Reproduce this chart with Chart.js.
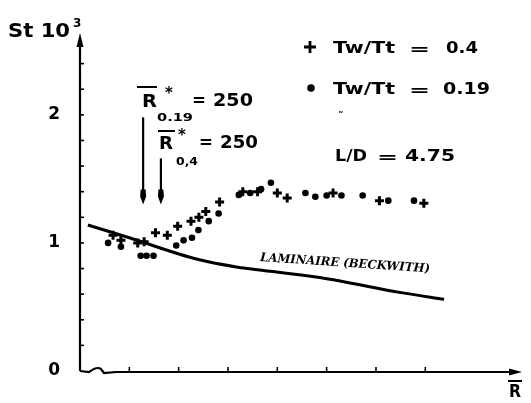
<!DOCTYPE html>
<html>
<head>
<meta charset="utf-8">
<script src="https://cdn.jsdelivr.net/npm/chart.js@4.4.0/dist/chart.umd.min.js"></script>
<style>
  html, body { margin: 0; padding: 0; background: #fff; }
  #wrap { width: 531px; height: 403px; }
</style>
</head>
<body>
<div id="wrap"><canvas id="chart" width="531" height="403"></canvas></div>
<script>
// ---- data ----
// + Tw/Tt = 0.4
const crossR  = [767, 783, 817, 830, 853, 877, 898, 925, 941, 955, 983, 1030, 1060, 1100, 1120, 1213, 1307, 1397];
const crossSt = [1.06, 1.02, 1.00, 1.01, 1.08, 1.06, 1.13, 1.17, 1.20, 1.245, 1.32, 1.40, 1.40, 1.39, 1.35, 1.39, 1.33, 1.31];
// • Tw/Tt = 0.19
const dotR  = [757, 783, 823, 835, 849, 895, 910, 927, 940, 961, 981, 1022, 1045, 1067, 1087, 1157, 1177, 1200, 1230, 1273, 1325, 1377];
const dotSt = [1.00, 0.97, 0.90, 0.90, 0.90, 0.98, 1.02, 1.04, 1.10, 1.17, 1.23, 1.375, 1.39, 1.42, 1.47, 1.39, 1.36, 1.37, 1.37, 1.37, 1.33, 1.33];
// laminaire (Beckwith)
const lamR  = [716, 800, 940, 1020, 1060, 1186, 1354, 1438];
const lamSt = [1.14, 1.04, 0.87, 0.81, 0.79, 0.73, 0.61, 0.56];
// tick labels
const xLabels = [800, 1000, 1200, 1400];
const yLabels = [0, 1, 2];
// R* transition arrows
const arrowR   = [828, 864];
const arrowTop = [1.98, 1.66];
const arrowTip = 1.30;

const FONT = '"DejaVu Sans", sans-serif';

function txt(ctx, s, x, y, font, w) {
    ctx.save();
    ctx.font = font;
    ctx.textAlign = 'left';
    ctx.textBaseline = 'alphabetic';
    ctx.fillStyle = '#000';
    ctx.translate(x, y);
    if (w) ctx.scale(w / ctx.measureText(s).width, 1);
    ctx.fillText(s, 0, 0);
    ctx.restore();
}

function bar(ctx, x1, x2, y) {
    ctx.beginPath(); ctx.moveTo(x1, y); ctx.lineTo(x2, y); ctx.stroke();
}

// axes, inner ticks, arrows and labels
const decor = {
    id: 'decor',
    afterDraw(chart) {
        const ctx = chart.ctx;
        const { x, y } = chart.scales;
        const a = chart.chartArea;
        ctx.save();
        ctx.strokeStyle = '#000';
        ctx.fillStyle = '#000';
        ctx.lineWidth = 2.2;
        ctx.lineCap = 'butt';

        // y axis with arrow
        ctx.beginPath(); ctx.moveTo(a.left, a.bottom); ctx.lineTo(a.left, a.top + 4); ctx.stroke();
        ctx.beginPath();
        ctx.moveTo(a.left, a.top - 5); ctx.lineTo(a.left + 3.5, a.top + 9); ctx.lineTo(a.left - 3.5, a.top + 9);
        ctx.closePath(); ctx.fill();

        // x axis with small break and arrow
        const y0 = y.getPixelForValue(0);
        ctx.beginPath();
        ctx.moveTo(a.left, y0);
        ctx.lineTo(a.left + 9, y0 + 1);
        ctx.quadraticCurveTo(a.left + 17, y0 - 5, a.left + 21, y0 - 2);
        ctx.lineTo(a.left + 24, y0 + 2);
        ctx.lineTo(a.left + 36, y0 + 1);
        ctx.lineTo(a.right - 6, y0 + 1);
        ctx.stroke();
        ctx.beginPath();
        ctx.moveTo(a.right, y0 + 1); ctx.lineTo(a.right - 13, y0 - 2.5); ctx.lineTo(a.right - 13, y0 + 4.5);
        ctx.closePath(); ctx.fill();

        // inner minor ticks
        ctx.lineWidth = 1.6;
        for (let v = 800; v <= 1400; v += 100) {
            const px = x.getPixelForValue(v);
            ctx.beginPath(); ctx.moveTo(px, y0); ctx.lineTo(px, y0 - 4); ctx.stroke();
        }
        for (let v = 0.2; v <= 2.41; v += 0.2) {
            const py = y.getPixelForValue(v);
            ctx.beginPath(); ctx.moveTo(a.left, py); ctx.lineTo(a.left + 4, py); ctx.stroke();
        }

        // R* arrows
        ctx.lineWidth = 2.2;
        arrowR.forEach((r, i) => {
            const px = x.getPixelForValue(r);
            const top = y.getPixelForValue(arrowTop[i]);
            const tip = y.getPixelForValue(arrowTip);
            ctx.beginPath(); ctx.moveTo(px, top); ctx.lineTo(px, tip - 10); ctx.stroke();
            ctx.beginPath();
            ctx.moveTo(px, tip);
            ctx.lineTo(px - 3, tip - 8);
            ctx.lineTo(px - 2.5, tip - 15);
            ctx.lineTo(px + 2.5, tip - 15);
            ctx.lineTo(px + 3, tip - 8);
            ctx.closePath(); ctx.fill();
        });

        // y title
        txt(ctx, 'St 10', 8, 37, 'bold 19px ' + FONT, 62);
        txt(ctx, '3', 73, 27, 'bold 12px ' + FONT);
        // x title R with bar
        txt(ctx, 'R', 509, 397, 'bold 17px ' + FONT, 12);
        ctx.lineWidth = 2;
        bar(ctx, 508, 522, 381);

        // R*0.19 = 250
        bar(ctx, 137, 157, 87);
        txt(ctx, 'R', 142, 107, 'bold 17px ' + FONT, 15);
        txt(ctx, '*', 165, 98, 'bold 15px ' + FONT);
        txt(ctx, '0.19', 157, 121, 'bold 11px ' + FONT, 36);
        txt(ctx, '=', 192, 106, 'bold 17px ' + FONT, 14);
        txt(ctx, '250', 213, 106, 'bold 17px ' + FONT, 40);
        // R*0,4 = 250
        bar(ctx, 158, 175, 131);
        txt(ctx, 'R', 159, 149, 'bold 17px ' + FONT, 14);
        txt(ctx, '*', 178, 140, 'bold 15px ' + FONT);
        txt(ctx, '0,4', 176, 165, 'bold 11px ' + FONT, 22);
        txt(ctx, '=', 199, 148, 'bold 17px ' + FONT, 14);
        txt(ctx, '250', 220, 148, 'bold 17px ' + FONT, 38);

        // legend
        ctx.lineWidth = 2.8;
        ctx.beginPath(); ctx.moveTo(304, 47); ctx.lineTo(316, 47); ctx.moveTo(310, 41); ctx.lineTo(310, 53); ctx.stroke();
        ctx.beginPath(); ctx.arc(311, 88, 3.8, 0, Math.PI * 2); ctx.fill();
        txt(ctx, 'Tw/Tt', 333, 53, 'bold 16px ' + FONT, 62);
        txt(ctx, '=', 409, 54, 'bold 16px ' + FONT, 21);
        txt(ctx, '0.4', 446, 53, 'bold 16px ' + FONT, 32);
        txt(ctx, 'Tw/Tt', 333, 94, 'bold 16px ' + FONT, 62);
        txt(ctx, '=', 409, 95, 'bold 16px ' + FONT, 21);
        txt(ctx, '0.19', 443, 94, 'bold 16px ' + FONT, 47);
        txt(ctx, '˜', 338, 120, 'bold 11px ' + FONT);
        txt(ctx, 'L/D', 335, 161, 'bold 16px ' + FONT, 32);
        txt(ctx, '=', 377, 162, 'bold 16px ' + FONT, 21);
        txt(ctx, '4.75', 405, 161, 'bold 16px ' + FONT, 50);

        // laminar label
        ctx.save();
        ctx.translate(260, 261);
        ctx.rotate(Math.atan2(10, 150));
        txt(ctx, 'LAMINAIRE (BECKWITH)', 0, 0, 'italic bold 12px "DejaVu Serif", serif', 170);
        ctx.restore();

        ctx.restore();
    }
};

new Chart(document.getElementById('chart'), {
    type: 'scatter',
    data: {
        datasets: [
            {
                type: 'line',
                data: lamR.map((r, i) => ({ x: r, y: lamSt[i] })),
                borderColor: '#000',
                borderWidth: 3,
                pointRadius: 0,
                cubicInterpolationMode: 'monotone',
                fill: false
            },
            {
                data: crossR.map((r, i) => ({ x: r, y: crossSt[i] })),
                pointStyle: 'cross',
                pointRadius: 4.5,
                borderWidth: 3,
                borderColor: '#000',
                backgroundColor: '#000'
            },
            {
                data: dotR.map((r, i) => ({ x: r, y: dotSt[i] })),
                pointStyle: 'circle',
                pointRadius: 3.3,
                borderWidth: 0,
                backgroundColor: '#000'
            }
        ]
    },
    options: {
        responsive: false,
        animation: false,
        devicePixelRatio: 1,
        layout: { padding: { top: 38, right: 3, left: 0, bottom: 0 } },
        plugins: { legend: { display: false }, tooltip: { enabled: false } },
        scales: {
            x: {
                type: 'linear',
                min: 700,
                max: 1596,
                afterFit: s => { s.height = 32; },
                grid: { display: false },
                border: { display: false },
                ticks: {
                    stepSize: 100,
                    autoSkip: false,
                    maxRotation: 0,
                    padding: 9,
                    color: '#000',
                    font: { family: FONT, size: 17, weight: 'bold' },
                    callback: v => xLabels.includes(v) ? String(v) : ''
                }
            },
            y: {
                min: 0,
                max: 2.6,
                afterFit: s => { s.width = 80; },
                grid: { display: false },
                border: { display: false },
                ticks: {
                    stepSize: 0.2,
                    autoSkip: false,
                    padding: 12,
                    color: '#000',
                    font: { family: FONT, size: 17, weight: 'bold' },
                    callback: v => {
                        const n = Math.round(v);
                        return Math.abs(v - n) < 1e-6 && yLabels.includes(n) ? String(n) : '';
                    }
                }
            }
        }
    },
    plugins: [decor]
});
</script>
</body>
</html>
